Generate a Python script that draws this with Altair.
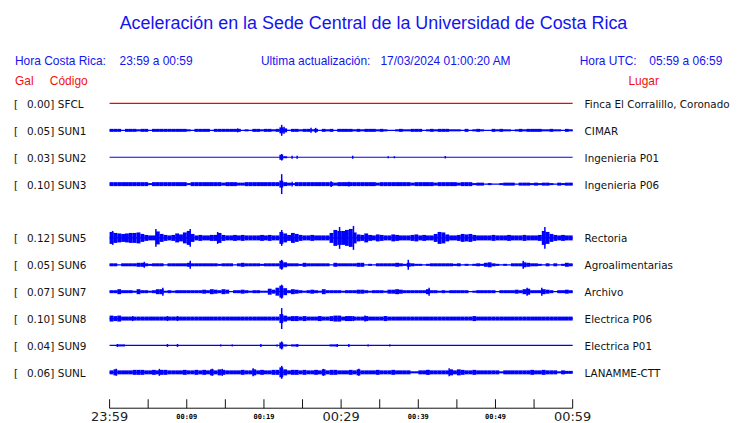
import altair as alt
import pandas as pd

# ---------------- data ----------------
CODES = ["SFCL", "SUN1", "SUN2", "SUN3", "SUN5", "SUN6", "SUN7", "SUN8", "SUN9", "SUNL"]
SLOTS = [0, 1, 2, 3, 5, 6, 7, 8, 9, 10]          # row index (SUN4 row is empty)
GAL = [0.00, 0.05, 0.03, 0.10, 0.12, 0.05, 0.07, 0.10, 0.04, 0.06]
PLACES = ["Finca El Corralillo, Coronado", "CIMAR", "Ingenieria P01", "Ingenieria P06",
          "Rectoria", "Agroalimentarias", "Archivo", "Electrica P06", "Electrica P01",
          "LANAMME-CTT"]

# envelope half-width per 30 s bin (units of half a pixel), minutes 0..60 after 23:59
ENV_SUN1 = [3,3,3,0,3,3,3,2,3,3, 0,3,3,3,3,3,3,3,3,3, 2,0,3,3,3,3,0,3,3,3,
            3,3,3,3,0,2,0,3,3,2, 3,3,2,3,6,4,1,3,3,2, 3,3,2,3,0,3,2,3,0,3,
            3,3,3,2,3,2,3,3,3,2, 3,2,0,0,2,3,2,2,3,3, 3,0,2,3,2,3,3,3,2,2,
            2,0,3,0,2,3,2,0,0,3, 2,3,2,2,0,2,3,2,3,3, 3,3,2,2,3,2,2,0,3,2]
ENV_SUN2 = [0]*44 + [5, 2] + [0]*74
ENV_SUN3 = [4,4,4,4,4,4,4,4,4,4, 2,4,4,4,4,4,4,4,4,4, 2,4,4,4,4,4,4,4,4,3,
            4,4,4,3,3,4,4,4,4,4, 4,4,4,4,7,4,3,2,4,4, 4,4,4,4,4,4,4,4,3,4,
            4,4,4,4,4,4,4,4,4,3, 4,4,4,4,4,4,4,4,3,4, 4,4,4,4,3,4,4,4,4,4,
            3,4,4,4,2,3,3,0,2,0, 0,2,3,3,3,0,3,3,3,2, 3,2,3,3,2,0,3,2,3,3]
ENV_SUN5 = [12,10,9,8,9,10,10,11,8,6, 5,5,13,8,6,5,6,9,7,11, 14,8,5,6,5,5,6,6,10,6,
            5,5,6,5,6,5,5,5,5,6, 5,6,5,5,12,9,6,10,8,6, 5,5,6,5,5,5,5,10,16,14,
            14,16,18,11,7,6,9,6,5,7, 6,5,5,7,6,5,5,5,6,7, 5,6,5,5,8,12,11,7,5,5,
            6,8,7,8,6,5,5,5,5,6, 5,5,5,6,5,5,5,6,5,5, 5,6,14,12,8,6,5,6,5,5]
ENV_SUN6 = [3,3,0,3,3,3,3,4,4,3, 2,3,3,3,0,3,3,3,3,3, 4,3,3,3,3,3,3,3,2,3,
            3,3,0,3,4,3,3,3,3,2, 3,3,3,3,8,5,3,3,3,2, 4,3,3,3,3,3,3,0,4,3,
            3,3,3,3,4,4,0,2,0,3, 3,3,3,3,4,3,2,4,3,2, 2,0,2,3,3,3,3,3,3,2,
            3,0,2,0,2,3,2,4,5,3, 2,0,2,0,3,3,3,5,4,3, 3,2,0,3,0,3,0,2,4,3]
ENV_SUN7 = [3,3,5,3,3,3,2,5,3,3, 2,3,5,5,2,3,2,3,3,3, 3,3,3,3,4,3,5,4,3,5,
            4,0,3,3,4,3,2,3,3,2, 2,6,4,8,12,7,3,5,4,3, 2,3,4,3,2,5,3,3,3,3,
            2,3,3,3,4,4,3,2,3,3, 3,2,4,4,5,4,3,3,3,3, 3,3,5,3,3,2,3,2,3,3,
            3,3,3,0,2,3,3,3,3,3, 0,3,3,3,3,4,3,5,6,3, 3,3,5,4,3,0,3,3,4,3]
ENV_SUN8 = [6,5,6,4,4,4,4,4,4,4, 4,4,4,4,4,4,4,4,4,4, 4,4,4,4,4,4,4,4,4,4,
            4,4,4,4,4,4,4,4,4,4, 4,4,4,4,9,6,4,5,5,4, 5,4,4,4,5,4,4,5,6,6,
            4,5,5,4,4,4,5,4,4,4, 4,5,4,4,4,4,4,4,4,4, 4,4,4,4,4,4,4,4,4,4,
            4,4,4,4,5,4,4,4,4,4, 4,4,4,4,4,4,4,4,4,4, 4,4,4,4,4,4,4,4,4,4]
ENV_SUN9 = [0,0,2,2,0,0,0,0,0,0] + [0]*30 + [0,0,0,0,6,2,0,2,2,0,
            0,0,0,0,0,0,0,2,2,0] + [0]*60
ENV_SUNL = [4,6,4,4,4,4,5,5,5,4, 4,5,4,5,5,4,4,4,4,5, 4,4,5,4,5,4,6,4,6,5,
            4,4,4,4,5,4,4,6,4,5, 4,4,5,5,10,6,4,5,5,4, 5,4,4,5,4,6,4,5,5,4,
            4,4,5,4,6,4,4,4,4,5, 4,4,4,5,4,4,4,4,2,2, 4,4,5,4,4,4,4,4,6,4,
            6,5,4,4,5,4,4,4,4,4, 4,2,4,4,4,4,4,4,4,5, 4,4,5,4,4,4,2,4,3,3]

# isolated peaks: (minute, half-height in px)
SPK_SUN1 = [(16.6, 2), (22.3, 5.5), (22.6, 3.5), (26.1, 2.5), (26.7, 2.5)]
SPK_SUN2 = [(22.3, 3.3), (23.65, 1.5), (24.3, 1.5), (31.5, 1.5), (36.1, 1), (36.9, 1), (43.5, 1.2)]
SPK_SUN3 = [(22.3, 10), (23.65, 2.5), (28.7, 3), (31.0, 2.5)]
SPK_SUN5 = [(0.4, 7), (6.0, 9), (10.45, 9), (14.0, 6), (22.3, 8), (29.8, 11), (31.6, 12), (56.4, 11)]
SPK_SUN6 = [(4.5, 3), (10.45, 4), (22.3, 5), (38.7, 5), (53.6, 4)]
SPK_SUN7 = [(6.9, 4), (22.3, 7), (41.4, 4), (54.1, 4), (56.0, 4)]
SPK_SUN8 = [(3.0, 2.5), (7.5, 2.5), (8.8, 2.5), (22.3, 10.5), (31.0, 2.5), (31.6, 2.5), (33.1, 3), (35.7, 2.5)]
SPK_SUN9 = [(1.0, 1.5), (7.5, 1.5), (8.8, 1.5), (14.4, 1), (15.9, 1), (19.6, 1.5), (21.7, 1),
            (22.3, 4), (24.3, 1.5), (29.5, 1.5), (31.0, 1.5), (33.5, 1), (36.3, 1)]
SPK_SUNL = [(0.86, 3.5), (6.45, 3.5), (13.3, 3.5), (14.6, 3.5), (18.6, 4), (22.3, 6.5),
            (27.7, 3.5), (32.3, 3.5), (41.3, 2.5), (44.0, 4)]

TICK_MIN = [0, 5, 10, 15, 20, 25, 30, 35, 40, 45, 50, 55, 60]
LABEL_MIN = [0, 10, 20, 30, 40, 50, 60]
LABEL_TXT = ["23:59", "00:09", "00:19", "00:29", "00:39", "00:49", "00:59"]
LABEL_BIG = [1, 0, 0, 1, 0, 0, 1]

TITLE = "Aceleración en la Sede Central de la Universidad de Costa Rica"
HORA_CR = ["Hora Costa Rica:", "23:59 a 00:59"]
ACTUAL = ["Ultima actualización:", "17/03/2024 01:00:20 AM"]
HORA_UTC = ["Hora UTC:", "05:59 a 06:59"]

# ---------------- tables ----------------
ROW = 27
ENVS = {"SUN1": ENV_SUN1, "SUN2": ENV_SUN2, "SUN3": ENV_SUN3, "SUN5": ENV_SUN5,
        "SUN6": ENV_SUN6, "SUN7": ENV_SUN7, "SUN8": ENV_SUN8, "SUN9": ENV_SUN9, "SUNL": ENV_SUNL}
SPKS = {"SUN1": SPK_SUN1, "SUN2": SPK_SUN2, "SUN3": SPK_SUN3, "SUN5": SPK_SUN5,
        "SUN6": SPK_SUN6, "SUN7": SPK_SUN7, "SUN8": SPK_SUN8, "SUN9": SPK_SUN9, "SUNL": SPK_SUNL}
slot_of = dict(zip(CODES, SLOTS))

env_rows, spk_rows = [], []
for code, env in ENVS.items():
    c = slot_of[code] * ROW
    for b, v in enumerate(env):
        if v > 0:
            env_rows.append({"code": code, "t0": b * 0.5, "t1": b * 0.5 + 0.5,
                             "y0": c - v * 0.5, "y1": c + v * 0.5})
for code, sp in SPKS.items():
    c = slot_of[code] * ROW
    for t, a in sp:
        spk_rows.append({"code": code, "t": t, "y0": c - a, "y1": c + a})

env_df = pd.DataFrame(env_rows)
spk_df = pd.DataFrame(spk_rows)
base_df = pd.DataFrame({"code": CODES, "t0": 0, "t1": 60,
                        "yc": [s * ROW for s in SLOTS],
                        "color": ["#ff0000"] + ["#0000ff"] * 9})
lab_df = pd.DataFrame({"code": CODES, "yc": [s * ROW for s in SLOTS],
                       "gal": [f"{g:.2f}]" for g in GAL], "place": PLACES})
tick_df = pd.DataFrame({"t": TICK_MIN, "y0": 297, "y1": 306})
axl_df = pd.DataFrame({"t": LABEL_MIN, "txt": LABEL_TXT, "big": LABEL_BIG})

XS = alt.Scale(domain=[0, 60], nice=False, zero=False)
YS = alt.Scale(domain=[-13, 306], reverse=True, nice=False, zero=False)
BLUE_T = "#1414f0"
RED_T = "#f01010"


def X(f):
    return alt.X(f, scale=XS, axis=None)


def Y(f):
    return alt.Y(f, scale=YS, axis=None)


baseline = alt.Chart(base_df).mark_rule(strokeWidth=1.2).encode(
    x=X("t0:Q"), x2="t1:Q", y=Y("yc:Q"),
    color=alt.Color("color:N", scale=None))

env = alt.Chart(env_df).mark_rect(color="#0000ff").encode(
    x=X("t0:Q"), x2="t1:Q", y=Y("y0:Q"), y2="y1:Q")

spk = alt.Chart(spk_df).mark_rule(color="#0000ff", strokeWidth=1.5).encode(
    x=X("t:Q"), y=Y("y0:Q"), y2="y1:Q")

LAB = dict(baseline="middle", font="DejaVu Sans", fontSize=10.5, color="#111", dy=1.5)
bracket = alt.Chart(lab_df).mark_text(align="left", **LAB).encode(
    x=alt.value(-96), y=Y("yc:Q"), text=alt.value("["))
galt = alt.Chart(lab_df).mark_text(align="left", **LAB).encode(
    x=alt.value(-83), y=Y("yc:Q"), text="gal:N")
codet = alt.Chart(lab_df).mark_text(align="left", **LAB).encode(
    x=alt.value(-52), y=Y("yc:Q"), text="code:N")
placet = alt.Chart(lab_df).mark_text(align="left", baseline="middle", font="DejaVu Sans",
                                     fontSize=10.4, color="#111", dy=1.5).encode(
    x=alt.value(477), y=Y("yc:Q"), text="place:N")

axis_line = alt.Chart(pd.DataFrame({"t0": [0], "t1": [60], "y": [306]})).mark_rule(
    color="#111", strokeWidth=1).encode(x=X("t0:Q"), x2="t1:Q", y=Y("y:Q"))
ticks = alt.Chart(tick_df).mark_rule(color="#111", strokeWidth=1).encode(
    x=X("t:Q"), y=Y("y0:Q"), y2="y1:Q")
big_lab = alt.Chart(axl_df).transform_filter("datum.big == 1").mark_text(
    font="DejaVu Sans", fontSize=13, color="#222", baseline="middle").encode(
    x=X("t:Q"), y=alt.value(328), text="txt:N")
small_lab = alt.Chart(axl_df).transform_filter("datum.big == 0").mark_text(
    font="DejaVu Sans Mono", fontWeight="bold", fontSize=7, color="#000",
    baseline="middle").encode(x=X("t:Q"), y=alt.value(328), text="txt:N")


def note(txt, x, y, size, color, align="left"):
    return alt.Chart(pd.DataFrame({"s": [txt]})).mark_text(
        align=align, baseline="middle", font="Liberation Sans", fontSize=size,
        color=color).encode(x=alt.value(x), y=alt.value(y), text="s:N")


headers = [
    note(TITLE, 265, -67, 18, BLUE_T, "center"),
    note(HORA_CR[0], -95, -30, 12, BLUE_T),
    note(HORA_CR[1], 10, -30, 12, BLUE_T),
    note(ACTUAL[0], 152, -30, 12, BLUE_T),
    note(ACTUAL[1], 272, -30, 12, BLUE_T),
    note(HORA_UTC[0], 472, -30, 12, BLUE_T),
    note(HORA_UTC[1], 542, -30, 12, BLUE_T),
    note("Gal", -95, -10, 12, RED_T),
    note("Código", -60, -10, 12, RED_T),
    note("Lugar", 521, -10, 12, RED_T),
]

chart = alt.layer(
    baseline, env, spk, bracket, galt, codet, placet,
    axis_line, ticks, big_lab, small_lab, *headers
).properties(
    width=465, height=319,
    padding={"left": 102, "top": 82, "right": 160, "bottom": 16},
    autosize=alt.AutoSizeParams(type="none"),
    background="white",
).configure_view(stroke=None)

chart.save("out.html", embed_options={"renderer": "svg", "actions": False})
